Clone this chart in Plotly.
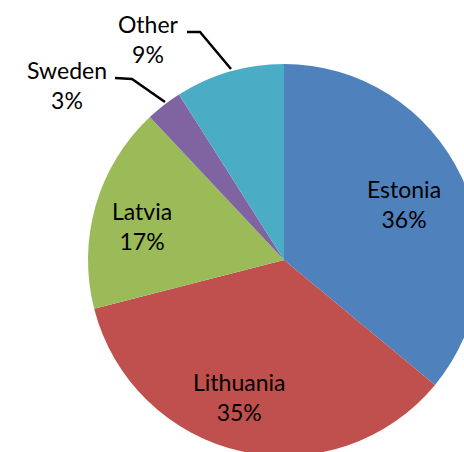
import plotly.graph_objects as go

countries = ["Estonia", "Lithuania", "Latvia", "Sweden", "Other"]
shares = [36, 35, 17, 3, 9]
colors = ["#4F81BD", "#C0504D", "#9BBB59", "#8064A2", "#4BACC6"]

W, H = 490, 470
cx, cy, r = 284, 260, 196

def px(x):
    return x / W

def py(y):
    return 1 - y / H

fig = go.Figure(go.Pie(
    labels=countries,
    values=shares,
    sort=False,
    direction="clockwise",
    rotation=0,
    marker=dict(colors=colors, line=dict(width=0)),
    textinfo="none",
    hoverinfo="label+percent",
    showlegend=False,
    domain=dict(x=[px(cx - r), px(cx + r)], y=[py(cy + r), py(cy - r)]),
))

label_pos = {
    "Estonia": (404, 204),
    "Lithuania": (239, 397),
    "Latvia": (142, 226),
    "Sweden": (67, 85),
    "Other": (148, 39),
}
for name, val in zip(countries, shares):
    x, y = label_pos[name]
    fig.add_annotation(
        x=px(x), y=py(y), xref="paper", yref="paper",
        text=f"{name}<br>{val}%", showarrow=False,
        font=dict(family="Lato", size=23, color="black"),
        xanchor="center", yanchor="middle", align="center",
    )

leaders = [
    [(187, 32), (200, 32), (231, 69)],
    [(115, 78), (132, 79), (165, 102)],
]
for pts in leaders:
    path = "M " + " L ".join(f"{px(x)},{py(y)}" for x, y in pts)
    fig.add_shape(type="path", path=path, xref="paper", yref="paper",
                  line=dict(color="black", width=2.5))

fig.update_layout(
    width=W, height=H,
    margin=dict(l=0, r=0, t=0, b=0),
    paper_bgcolor="white",
    plot_bgcolor="white",
)

fig.write_html(
    "out.html",
    config={"displayModeBar": False},
    post_script="document.body.style.margin='0';"
                "document.body.style.overflow='hidden';"
                "document.documentElement.style.overflow='hidden';",
)
